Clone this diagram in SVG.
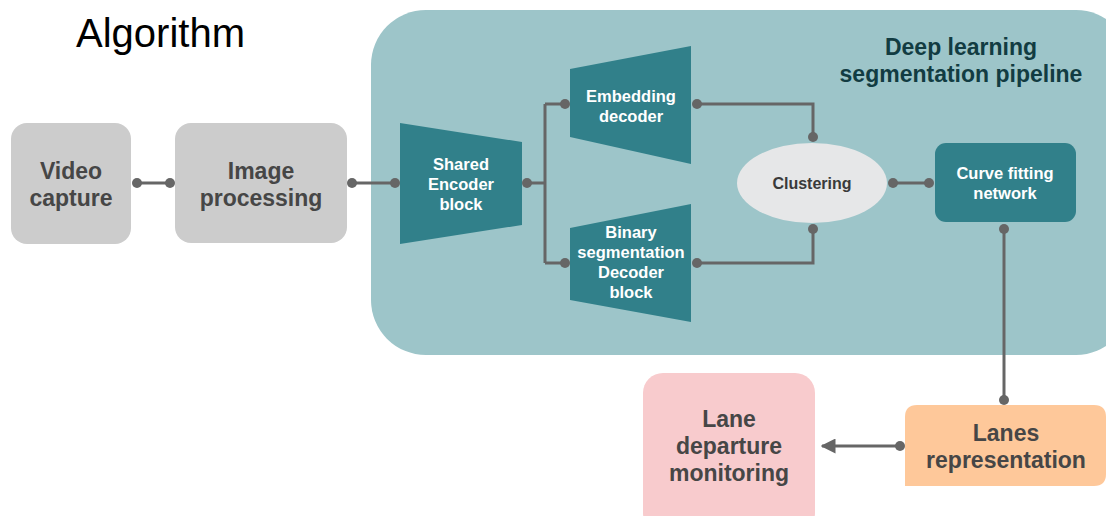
<svg xmlns="http://www.w3.org/2000/svg" width="1106" height="516" viewBox="0 0 1106 516">
<style>
.gray{fill:#cccccc}
.teal{fill:#31808a}
.big{font-family:"Liberation Sans",Arial,sans-serif;font-weight:bold;font-size:23px;fill:#464646;text-anchor:middle}
.wt{font-family:"Liberation Sans",Arial,sans-serif;font-weight:bold;font-size:16.5px;fill:#ffffff;text-anchor:middle}
.dk{font-family:"Liberation Sans",Arial,sans-serif;font-weight:bold;font-size:16px;fill:#3a3a3a;text-anchor:middle}
.hd{font-family:"Liberation Sans",Arial,sans-serif;font-weight:bold;font-size:23px;fill:#123c42;text-anchor:middle}
.ln{fill:none;stroke:#666666;stroke-width:3}
.dot{fill:#666666}
</style>
<defs>
<marker id="arr" viewBox="0 0 10 10" refX="9" refY="5" markerWidth="5" markerHeight="5" orient="auto"><path d="M0,0 L10,5 L0,10 z" fill="#666666"/></marker>
</defs>
<rect width="1106" height="516" fill="#ffffff"/>
<text x="76" y="47" font-family="'Liberation Sans',Arial,sans-serif" font-size="40" fill="#000">Algorithm</text>
<g id="pipeline">
<rect x="371" y="10" width="760" height="345" rx="55" fill="#9dc5c9"/>
<text class="hd" x="961" y="55">Deep learning</text>
<text class="hd" x="961" y="82">segmentation pipeline</text>
</g>
<g id="video"><rect class="gray" x="11" y="123" width="120" height="121" rx="16"/><text class="big" x="71" y="179">Video</text><text class="big" x="71" y="206">capture</text></g>
<g id="image"><rect class="gray" x="175" y="123" width="172" height="120" rx="16"/><text class="big" x="261" y="179">Image</text><text class="big" x="261" y="206">processing</text></g>
<g id="encoder"><polygon class="teal" points="400,123 522,142 522,225 400,244"/><text class="wt" x="461" y="170">Shared</text><text class="wt" x="461" y="190">Encoder</text><text class="wt" x="461" y="210">block</text></g>
<g id="embedding"><polygon class="teal" points="570,69 691,46 691,164 570,137"/><text class="wt" x="631" y="102">Embedding</text><text class="wt" x="631" y="122">decoder</text></g>
<g id="binary"><polygon class="teal" points="570,228 691,204 691,322 570,300"/><text class="wt" x="631" y="238">Binary</text><text class="wt" x="631" y="258">segmentation</text><text class="wt" x="631" y="278">Decoder</text><text class="wt" x="631" y="298">block</text></g>
<g id="clustering"><ellipse cx="812" cy="183" rx="75" ry="40" fill="#e6e7e8"/><text class="dk" x="812" y="189">Clustering</text></g>
<g id="curve"><rect class="teal" x="935" y="143" width="141" height="79" rx="11"/><text class="wt" x="1005" y="179">Curve fitting</text><text class="wt" x="1005" y="199">network</text></g>
<g id="departure"><rect x="643" y="373" width="172" height="160" rx="20" fill="#f8cbcd"/><text class="big" x="729" y="427">Lane</text><text class="big" x="729" y="454">departure</text><text class="big" x="729" y="481">monitoring</text></g>
<g id="lanes"><path d="M917,405 H1094 Q1106,405 1106,417 V474 Q1106,486 1094,486 H905 V417 Q905,405 917,405 z" fill="#fec89a"/><text class="big" x="1006" y="441">Lanes</text><text class="big" x="1006" y="468">representation</text></g>
<g id="connectors">
<path class="ln" d="M137,183 H170"/><circle class="dot" cx="137" cy="183" r="5"/><circle class="dot" cx="170" cy="183" r="5"/>
<path class="ln" d="M352,183 H395"/><circle class="dot" cx="352" cy="183" r="5"/><circle class="dot" cx="395" cy="183" r="5"/>
<path class="ln" d="M527,183 H545 M545,104 V263 M545,104 H565 M545,263 H565"/><circle class="dot" cx="527" cy="183" r="5"/><circle class="dot" cx="565" cy="104" r="5"/><circle class="dot" cx="565" cy="263" r="5"/>
<path class="ln" d="M697,104 H813 V137"/><circle class="dot" cx="697" cy="104" r="5"/><circle class="dot" cx="813" cy="137" r="5"/>
<path class="ln" d="M697,263 H813 V229"/><circle class="dot" cx="697" cy="263" r="5"/><circle class="dot" cx="813" cy="229" r="5"/>
<path class="ln" d="M893,183 H929"/><circle class="dot" cx="893" cy="183" r="5"/><circle class="dot" cx="929" cy="183" r="5"/>
<path class="ln" d="M1004,229 V400"/><circle class="dot" cx="1004" cy="229" r="5"/><circle class="dot" cx="1004" cy="400" r="5"/>
<path class="ln" d="M900,446 H822" marker-end="url(#arr)"/><circle class="dot" cx="900" cy="446" r="5"/>
</g>
</svg>
